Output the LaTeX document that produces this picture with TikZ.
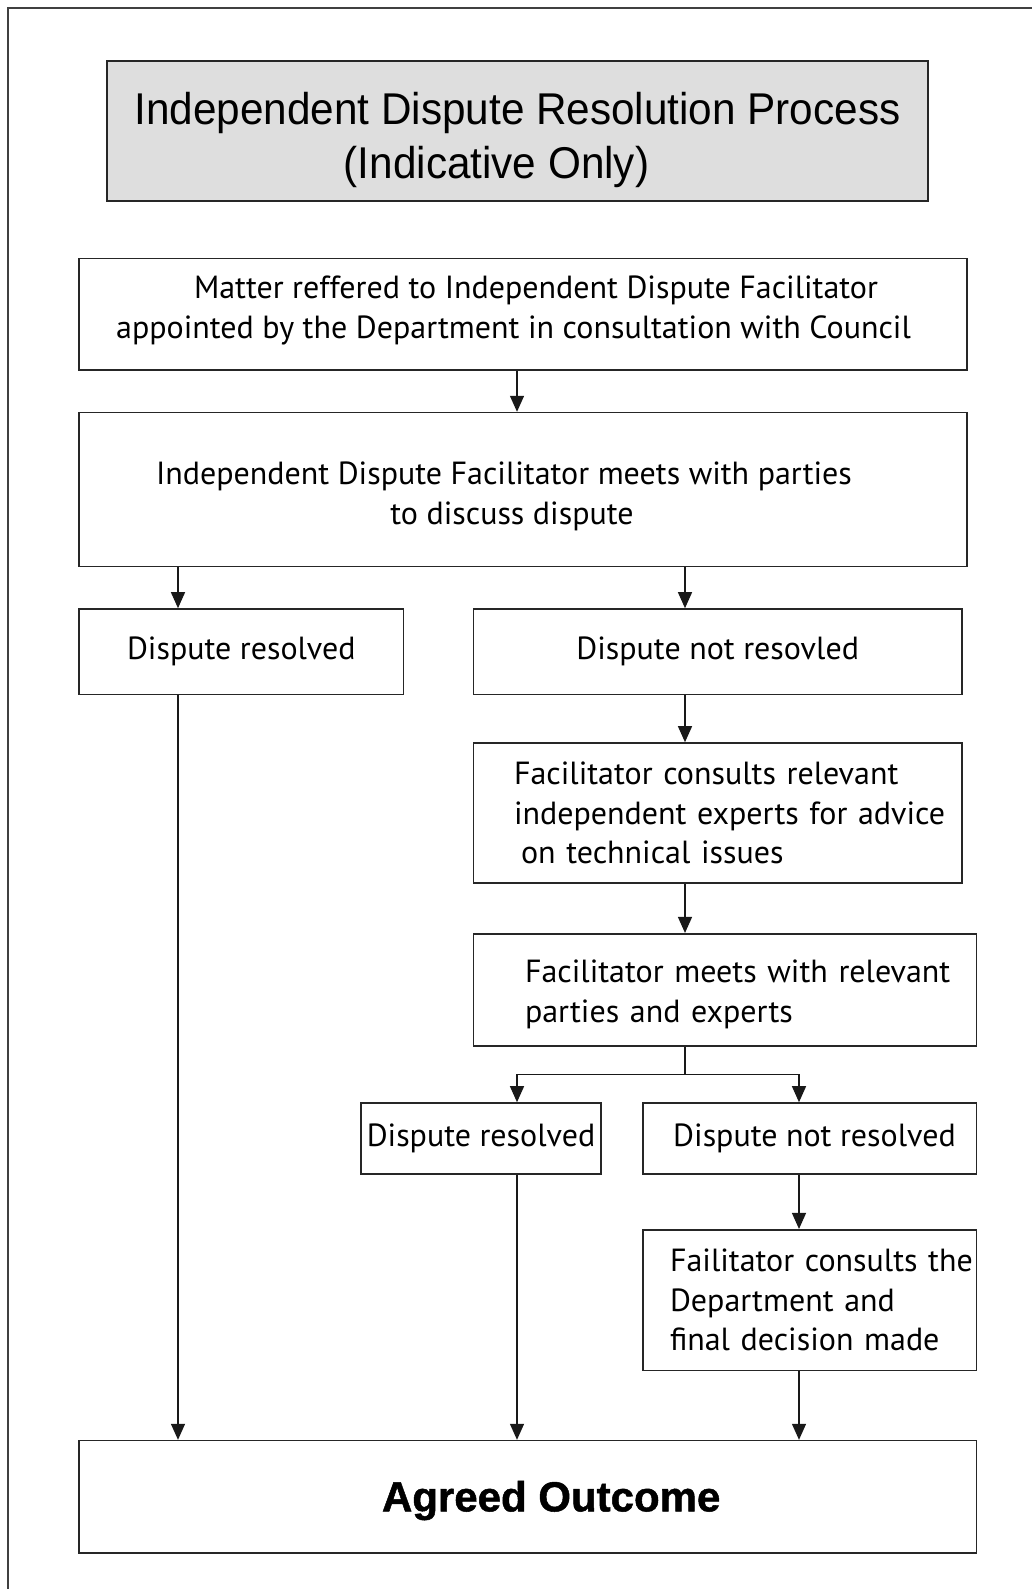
\documentclass[tikz,border=0pt]{standalone}
\usepackage{fontspec}
\setmainfont{PT Sans}
\newfontfamily\headfont[FakeStretch=0.95]{Liberation Sans}
\newfontfamily\outfont[FakeBold=1.2]{Liberation Sans Bold}
\usetikzlibrary{arrows.meta, positioning}

\begin{document}
\begin{tikzpicture}[x=1pt, y=1pt,
    box/.style={draw=black!85, line width=1.6pt, inner sep=0pt, align=center,
      font=\fontsize{32}{39.5}\selectfont},
    lbox/.style={box, align=left},
    flow/.style={black!90, line width=1.3pt, -{Triangle[length=16pt, width=14pt]}},
    link/.style={draw=black!90, line width=1.3pt}]
    \useasboundingbox (0,0) rectangle (1032,-1589);
    % Frame
    \draw[black!75, line width=2pt] (8,-1589) -- (8,-8) -- (1032,-8);

    % Columns for the arrows
    \coordinate (colA) at (178,0);
    \coordinate (colB) at (517,0);
    \coordinate (colC) at (685,0);
    \coordinate (colD) at (799,0);

    % Boxes
    \node[box, fill=black!13, minimum width=821pt, minimum height=140pt,
      font=\headfont\fontsize{44.5}{54}\selectfont] (title) at (517.5,-131)
      {\rule{0pt}{50pt}Independent Dispute Resolution Process\\(Indicative Only)\hspace*{42pt}};
    \node[box, minimum width=888pt, minimum height=111.5pt] (refer) at (523,-314.3)
      {\hspace*{26pt}Matter reffered to Independent Dispute Facilitator\\
       appointed by the Department in consultation with Council\hspace*{19pt}\rule[-14pt]{0pt}{1pt}};
    \node[box, minimum width=888pt, minimum height=154pt] (meet) at (523,-489.6)
      {\rule{0pt}{36pt}Independent Dispute Facilitator meets with parties\hspace*{38pt}\\
       to discuss dispute\hspace*{22pt}};
    \node[box, minimum width=324.5pt, minimum height=85.4pt] (res1) at (241.3,-651.7)
      {Dispute resolved};
    \node[box, minimum width=488.6pt, minimum height=85.4pt] (nres1) at (717.7,-651.7)
      {Dispute not resovled};
    \node[lbox, minimum width=488.6pt, minimum height=140pt, inner xsep=40.6pt,
      text width=407.4pt] (consult) at (717.7,-813)
      {Facilitator consults relevant\\\mbox{independent experts for advice}\\
       \hspace*{7pt}on technical issues};
    \node[lbox, minimum width=502.9pt, minimum height=112.3pt, inner xsep=51.6pt,
      text width=399.7pt] (expert) at (724.9,-989.9)
      {\rule{0pt}{32pt}\mbox{Facilitator meets with relevant}\\parties and experts};
    \node[box, minimum width=240pt, minimum height=71pt] (res2) at (481,-1138.5)
      {Dispute resolved};
    \node[box, minimum width=333.6pt, minimum height=71pt] (nres2) at (809.5,-1138.5)
      {\hspace*{10pt}Dispute not resolved};
    \node[lbox, minimum width=333.6pt, minimum height=140.9pt, inner xsep=27.3pt,
      text width=279pt] (final) at (809.5,-1300.2)
      {\mbox{Failitator consults the}\\Department and\\final decision made};
    \node[box, minimum width=897.3pt, minimum height=112.4pt,
      font=\outfont\fontsize{42}{50}\selectfont] (outcome) at (527.7,-1496.8)
      {\hspace*{47pt}\rule{0pt}{38pt}Agreed Outcome};

    % Arrows
    \path[flow]
    (refer.south -| colB) edge (meet.north -| colB)
    (meet.south -| colA) edge (res1.north -| colA)
    (meet.south -| colC) edge (nres1.north -| colC)
    (nres1.south -| colC) edge (consult.north -| colC)
    (consult.south -| colC) edge (expert.north -| colC)
    (nres2.south -| colD) edge (final.north -| colD)
    (res1.south -| colA) edge (outcome.north -| colA)
    (res2.south -| colB) edge (outcome.north -| colB)
    (final.south -| colD) edge (outcome.north -| colD)
    ;
    \draw[link] (expert.south -| colC) -- ++(0,-27.6) coordinate (fork);
    \draw[flow] (fork) -| (res2.north -| colB);
    \draw[flow] (fork) -| (nres2.north -| colD);
\end{tikzpicture}
\end{document}
